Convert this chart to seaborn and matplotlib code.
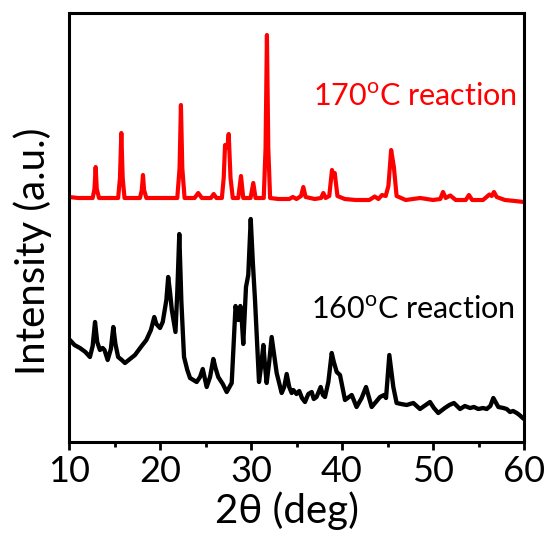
import matplotlib
matplotlib.use("Agg")
import matplotlib.pyplot as plt
import seaborn as sns
import pandas as pd

# ---- data (arbitrary intensity units) ----
# 170 C sample, intensity relative to its own baseline
red_x = [10.0, 11.0, 12.0, 12.6, 12.8, 12.93, 13.05, 13.3, 14.5, 15.4, 15.6, 15.75, 15.9, 16.1,
         17.0, 17.8, 18.0, 18.13, 18.25, 18.5, 20.0, 21.9, 22.15, 22.3, 22.45, 22.7, 23.8,
         24.2, 24.6, 25.6, 25.9, 26.2, 26.8, 27.0, 27.15, 27.4, 27.55, 27.75, 28.0, 28.6,
         28.9, 29.15, 29.95, 30.25, 30.5, 31.4, 31.6, 31.75, 31.9, 32.1, 33.0, 34.2, 34.6,
         35.0, 35.5, 35.75, 36.0, 37.0, 37.7, 37.95, 38.2, 38.6, 38.9, 39.05, 39.2, 39.5,
         40.3, 41.5, 43.0, 43.6, 44.0, 44.4, 44.8, 45.1, 45.4, 45.7, 46.0, 47.0, 48.6,
         50.0, 50.8, 51.1, 51.4, 51.9, 52.5, 53.6, 53.95, 54.3, 55.5, 56.2, 56.45, 56.7,
         57.0, 57.9, 59.0, 60.0]
red_y = [1, 0, 0, 0, 9, 31, 9, 0, 0, 0, 20, 65, 20, 0,
         0, 0, 8, 23, 8, 0, 0, 0, 30, 93, 30, 0, 0,
         5, 0, 0, 4, 0, 0, 20, 53, 50, 64, 20, 0, 0,
         22, 0, 0, 15, 0, 0, 50, 163, 50, 0, -1, -1, 1,
         -1, 2, 11, 1, -1, 0, 5, 0, 2, 28, 22, 25, 2,
         -1, -2, -2, 1.5, -1, 3, 2, 12, 48, 31, 2, -2, 0,
         -2, -1, 6, 0, 2.5, -2, -2, 3, -2, -2, 3.5, 2, 6,
         1, -2, -3, -4]

# 160 C sample
black_x = [10.0, 10.1, 10.6, 11.2, 11.8, 12.3, 12.6, 12.86, 13.1, 13.4, 13.7, 13.9, 14.25, 14.6,
           14.87, 15.1, 15.4, 15.8, 16.15, 16.7, 17.25, 17.9, 18.5, 19.0, 19.37, 19.6,
           20.0, 20.3, 20.7, 20.9, 21.1, 21.3, 21.7, 21.9, 22.12, 22.35, 22.64, 23.0, 23.3,
           24.03, 24.4, 24.7, 25.13, 25.5, 25.86, 26.1, 26.4, 26.9, 27.33, 27.88, 28.1, 28.3,
           28.45, 28.6, 28.83, 29.0, 29.15, 29.45, 29.7, 29.97, 30.2, 30.44, 30.88, 31.1, 31.36,
           31.55, 31.72, 32.0, 32.27, 32.5, 32.82, 33.37, 33.65, 33.92, 34.2, 34.47, 34.65,
           35.0, 35.3, 35.6, 35.93, 36.3, 36.67, 36.9, 37.2, 37.66, 37.9, 38.13, 38.5, 38.87,
           39.1, 39.42, 39.78, 40.33, 41.07, 41.6, 42.16, 42.64, 43.26, 44.18, 44.62, 44.84,
           45.2, 45.64, 46.0, 46.5, 47.1, 47.84, 48.57, 49.2, 49.67, 50.1, 50.58, 51.3, 51.8,
           52.3, 52.97, 53.5, 54.07, 54.5, 54.98, 55.5, 55.9, 56.3, 56.63, 57.18, 57.73, 58.1,
           58.46, 58.8, 59.2, 59.5, 59.86, 60.0]
black_y = [102, 102, 97, 94, 90, 85, 96, 120, 100, 92, 94, 92, 82, 93,
           115, 98, 85, 82, 79, 83, 87, 95, 102, 112, 125, 118,
           114, 120, 142, 165, 150, 132, 110, 150, 208, 140, 85, 72, 64,
           60, 65, 73, 55, 65, 83, 74, 65, 58, 50, 59, 100, 136,
           130, 122, 136, 120, 98, 155, 167, 223, 180, 142, 60, 75, 97,
           75, 59, 80, 105, 90, 69, 49, 55, 68, 55, 49, 52,
           48, 51, 44, 40, 48, 50, 43, 45, 55, 47, 45, 60, 89,
           80, 70, 67, 42, 47, 35, 44, 55, 35, 45, 47, 44,
           87, 55, 39, 38, 37, 39, 33, 37, 40, 34, 29, 34, 37,
           39, 33, 36, 34, 35, 33, 34, 33, 36, 44, 35, 34, 33,
           30, 31, 29, 27, 24, 23]

red_offset = 244
red_label = "170$^{\\mathrm{o}}$C reaction"
black_label = "160$^{\\mathrm{o}}$C reaction"

sns.set_theme(style="ticks")
plt.rcParams['font.family'] = ['Lato', 'DejaVu Sans']
plt.rcParams['mathtext.fontset'] = 'custom'
plt.rcParams['mathtext.rm'] = 'Lato'
plt.rcParams['mathtext.it'] = 'Lato:italic'
plt.rcParams['mathtext.bf'] = 'Lato:bold'
plt.rcParams['text.color'] = 'black'
plt.rcParams['axes.labelcolor'] = 'black'
plt.rcParams['xtick.color'] = 'black'
plt.rcParams['xtick.labelcolor'] = 'black'

df_red = pd.DataFrame({"two_theta": red_x, "intensity": [v + red_offset for v in red_y]})
df_black = pd.DataFrame({"two_theta": black_x, "intensity": black_y})

fig = plt.figure(figsize=(5.51, 5.43), dpi=100)
ax = fig.add_axes([69 / 551, 101 / 543, 455 / 551, 429 / 543])

sns.lineplot(data=df_black, x="two_theta", y="intensity", ax=ax, color="black",
             linewidth=3.1, estimator=None, sort=False)
sns.lineplot(data=df_red, x="two_theta", y="intensity", ax=ax, color="#ff0000",
             linewidth=3.0, estimator=None, sort=False)

ax.set_xlim(10, 60)
ax.set_ylim(0, 429)
ax.set_xticks([10, 20, 30, 40, 50, 60])
ax.set_xticks([15, 25, 35, 45, 55], minor=True)
ax.set_yticks([])
ax.tick_params(axis='x', which='major', direction='out', length=6, width=2, labelsize=26,
               pad=3)
ax.tick_params(axis='x', which='minor', direction='out', length=3.5, width=2)
for s in ax.spines.values():
    s.set_linewidth(2.2)
    s.set_color('black')

ax.set_xlabel("2θ (deg)", fontsize=29, labelpad=5)
ax.xaxis.set_label_coords(0.48, -0.115, transform=ax.transAxes)
ax.xaxis.label.set_va('top')
ax.set_ylabel("Intensity (a.u.)", fontsize=29)
ax.yaxis.set_label_coords(-0.08, 0.445, transform=ax.transAxes)
ax.yaxis.label.set_va('center')

ax.text(0.985, 0.785, red_label, transform=ax.transAxes, color="#ff0000",
        fontsize=22, ha="right", va="baseline")
ax.text(0.98, 0.288, black_label, transform=ax.transAxes, color="black",
        fontsize=22, ha="right", va="baseline")

fig.savefig("out.png", dpi=100)
